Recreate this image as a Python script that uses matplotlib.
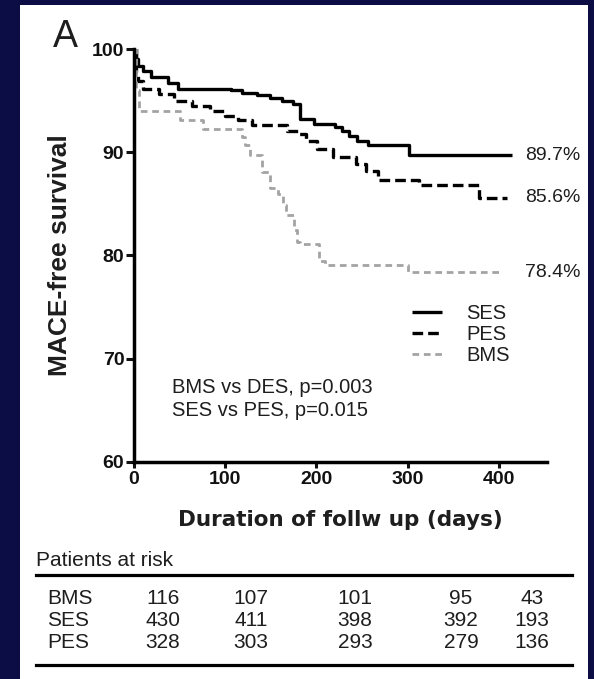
import matplotlib
matplotlib.use("Agg")
import matplotlib.pyplot as plt
from matplotlib.patches import Rectangle
from matplotlib.lines import Line2D

plt.rcParams["font.family"] = ["Liberation Sans", "DejaVu Sans"]

# Kaplan-Meier step curves (days, % MACE-free)
ses_days = [0, 2, 4, 10, 19, 37, 48, 106, 118, 135, 149, 162, 174, 182, 197, 220, 228, 236, 245, 257, 302, 415]
ses_surv = [100, 99.0, 98.4, 97.9, 97.3, 96.7, 96.1, 96.0, 95.7, 95.5, 95.3, 95.0, 94.7, 93.2, 92.7, 92.4, 92.1, 91.6, 91.1, 90.7, 89.7, 89.7]

pes_days = [0, 2, 4, 10, 27, 44, 64, 83, 100, 114, 129, 168, 180, 189, 201, 218, 243, 255, 268, 313, 378, 409]
pes_surv = [100, 97.8, 96.9, 96.1, 95.6, 95.0, 94.5, 94.0, 93.5, 93.1, 92.6, 92.1, 91.8, 91.1, 90.3, 89.5, 88.9, 88.2, 87.3, 86.8, 85.6, 85.6]

bms_days = [0, 2, 6, 50, 76, 118, 122, 127, 140, 149, 158, 163, 167, 176, 179, 182, 203, 210, 300, 400]
bms_surv = [100, 96.0, 94.0, 93.1, 92.3, 91.5, 90.7, 89.7, 88.1, 86.5, 86.0, 84.9, 83.9, 82.5, 81.3, 81.1, 79.5, 79.1, 78.4, 78.4]

end_labels = ["89.7%", "85.6%", "78.4%"]
end_values = [89.7, 85.6, 78.4]

# patients at risk table
risk_groups = ["BMS", "SES", "PES"]
risk_bms = [116, 107, 101, 95, 43]
risk_ses = [430, 411, 398, 392, 193]
risk_pes = [328, 303, 293, 279, 136]

TXT = "#1e1e1e"
W, H = 594, 679
fig = plt.figure(figsize=(W / 100, H / 100), dpi=100, facecolor="#0d0d46")
fig.patches.append(Rectangle((20 / W, 0), 568 / W, 1 - 5 / H, transform=fig.transFigure,
                             facecolor="white", edgecolor="none", zorder=-5))

ax = fig.add_axes([134 / W, 1 - 462 / H, (547 - 134) / W, (462 - 49) / H])
ax.set_facecolor("none")
ax.set_zorder(2)

ax.plot(ses_days, ses_surv, drawstyle="steps-post", color="black", lw=2.4, label="SES",
        solid_capstyle="butt")
ax.plot(pes_days, pes_surv, drawstyle="steps-post", color="black", lw=2.4,
        ls=(0, (3.2, 1.5)), label="PES")
ax.plot(bms_days, bms_surv, drawstyle="steps-post", color="#a3a3a3", lw=2.0,
        ls=(0, (2.4, 1.7)), label="BMS")

for txt, v in zip(end_labels, end_values):
    ax.text(429, v, txt, fontsize=14, va="center", ha="left", color=TXT, clip_on=False)

ax.text(42, 67.2, "BMS vs DES, p=0.003", fontsize=14.5, va="center", color=TXT)
ax.text(42, 65.0, "SES vs PES, p=0.015", fontsize=14.5, va="center", color=TXT)

leg = ax.legend(loc="upper left", bbox_to_anchor=(305, 75.3), bbox_transform=ax.transData,
                frameon=False, prop={"size": 14.5}, handlelength=1.5,
                handletextpad=1.2, labelspacing=0.1, borderpad=0, borderaxespad=0)
for t in leg.get_texts():
    t.set_color(TXT)

ax.set_xlim(0, 453)
ax.set_ylim(60, 100)
ax.set_xticks([0, 100, 200, 300, 400])
ax.set_yticks([60, 70, 80, 90, 100])
for s in ["top", "right"]:
    ax.spines[s].set_visible(False)
for s in ["left", "bottom"]:
    ax.spines[s].set_linewidth(2.5)
ax.tick_params(axis="both", width=2.2, labelsize=14, colors="#111111")
ax.tick_params(axis="y", length=5.5, pad=1.5)
ax.tick_params(axis="x", length=4.5, pad=2)
for lab in ax.get_xticklabels() + ax.get_yticklabels():
    lab.set_fontweight("bold")

ax.set_xlabel("Duration of follw up (days)", fontsize=15.5, fontweight="bold",
              family="DejaVu Sans", color=TXT)
ax.xaxis.set_label_coords(0.5, -(520 - 462) / 413)
ax.xaxis.label.set_verticalalignment("center")
ax.set_ylabel("MACE-free survival", fontsize=19, fontweight="bold", color=TXT)
ax.yaxis.set_label_coords(-(134 - 60) / 413, 0.5)
ax.yaxis.label.set_verticalalignment("center")

fig.text(53 / W, 1 - 47 / H, "A", fontsize=27, va="baseline", ha="left", color=TXT)

# patients at risk table
fig.text(36 / W, 1 - 561 / H, "Patients at risk", fontsize=15, va="center", color=TXT)
fig.add_artist(Line2D([36 / W, 572 / W], [1 - 575 / H] * 2, color="black", lw=2.3))
fig.add_artist(Line2D([36 / W, 572 / W], [1 - 665 / H] * 2, color="black", lw=2.3))
col_x = [163, 251, 355, 461, 532]
row_y = [599, 620, 642]
for name, vals, y in zip(risk_groups, [risk_bms, risk_ses, risk_pes], row_y):
    fig.text(47 / W, 1 - y / H, name, fontsize=15, va="center", color=TXT)
    for cx, v in zip(col_x, vals):
        fig.text(cx / W, 1 - y / H, str(v), fontsize=15, va="center", ha="center", color=TXT)

fig.savefig("out.png", dpi=100, facecolor=fig.get_facecolor())
